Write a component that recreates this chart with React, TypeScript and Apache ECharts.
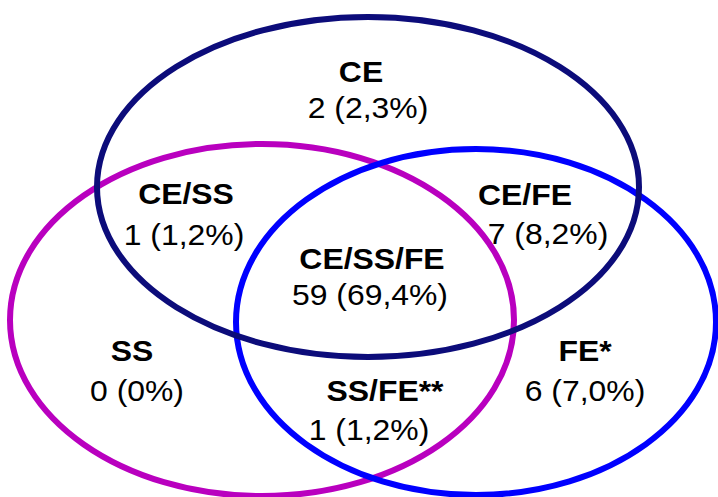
import React, { useEffect, useRef } from "react";
import * as echarts from "echarts";

// Sets (ellipses), drawn in this order
const setNames = ["SS", "FE", "CE"];
const setColors = ["#b900bf", "#0000ff", "#0c0c7a"];
const setCenters = [
  [262, 320],
  [476, 322],
  [368, 187],
];
const setRadii = [
  [252, 176],
  [240, 173],
  [271, 170],
];

// Regions
const regionNames = ["CE", "CE/SS", "CE/FE", "CE/SS/FE", "SS", "SS/FE**", "FE*"];
const regionCounts = [2, 1, 7, 59, 0, 1, 6];
const regionPercents = ["2,3%", "1,2%", "8,2%", "69,4%", "0%", "1,2%", "7,0%"];
// label anchor positions: [nameX, nameY, valueX, valueY]
const labelPos = [
  [361, 72, 368, 108],
  [186, 194, 184, 235],
  [525, 195, 548, 234],
  [372, 259, 370, 295],
  [132, 351, 137, 391],
  [385, 391, 369, 430],
  [585, 351, 585, 391],
];

export default function App() {
  const ref = useRef<HTMLDivElement>(null);
  useEffect(() => {
    document.body.style.margin = "0";
    const chart = echarts.init(ref.current!, null, { renderer: "svg" });
    const ellipseData = setNames.map((n, i) => ({
      name: n,
      value: [setCenters[i][0], setCenters[i][1], setRadii[i][0], setRadii[i][1], i],
    }));
    const labelData = regionNames.map((n, i) => ({
      name: n,
      value: [labelPos[i][0], labelPos[i][1], labelPos[i][2], labelPos[i][3], i],
    }));
    const fontFamily = '"Liberation Sans", Arial, sans-serif';
    chart.setOption({
      animation: false,
      backgroundColor: "#ffffff",
      grid: { left: 0, right: 0, top: 0, bottom: 0 },
      xAxis: { type: "value", min: 0, max: 718, show: false },
      yAxis: { type: "value", min: 0, max: 497, inverse: true, show: false },
      series: [
        {
          type: "custom",
          clip: false,
          data: ellipseData,
          renderItem: (params: any, api: any) => {
            const c = api.coord([api.value(0), api.value(1)]);
            const s = api.size([api.value(2), api.value(3)]);
            const idx = api.value(4);
            return {
              type: "ellipse",
              shape: { cx: c[0], cy: c[1], rx: s[0], ry: s[1] },
              style: { fill: "none", stroke: setColors[idx], lineWidth: 6 },
            };
          },
        },
        {
          type: "custom",
          clip: false,
          data: labelData,
          renderItem: (params: any, api: any) => {
            const idx = api.value(4);
            const p1 = api.coord([api.value(0), api.value(1)]);
            const p2 = api.coord([api.value(2), api.value(3)]);
            return {
              type: "group",
              children: [
                {
                  type: "text",
                  x: p1[0],
                  y: p1[1],
                  scaleX: 1.1,
                  style: {
                    text: regionNames[idx],
                    font: `bold 29px ${fontFamily}`,
                    fill: "#000",
                    textAlign: "center",
                    textVerticalAlign: "middle",
                  },
                },
                {
                  type: "text",
                  x: p2[0],
                  y: p2[1],
                  scaleX: 1.1,
                  style: {
                    text: `${regionCounts[idx]} (${regionPercents[idx]})`,
                    font: `29px ${fontFamily}`,
                    fill: "#000",
                    textAlign: "center",
                    textVerticalAlign: "middle",
                  },
                },
              ],
            };
          },
        },
      ],
    });
    return () => chart.dispose();
  }, []);
  return <div ref={ref} style={{ width: 718, height: 497 }} />;
}
